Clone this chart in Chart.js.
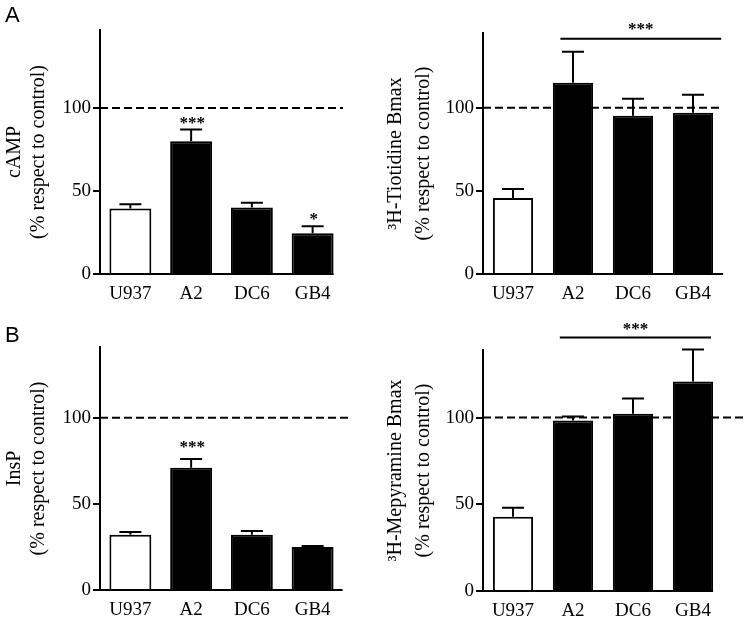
<!DOCTYPE html>
<html>
<head>
<meta charset="utf-8">
<script src="https://cdn.jsdelivr.net/npm/chart.js@4.4.1/dist/chart.umd.min.js"></script>
<style>
  html, body { margin: 0; padding: 0; background: #fff; }
  #wrap { position: relative; width: 747px; height: 618px; overflow: hidden; }
  #wrap canvas { position: absolute; }
</style>
</head>
<body>
<div id="wrap">
  <canvas id="campChart" width="373" height="310" style="left:0;top:0"></canvas>
  <canvas id="tiotidineChart" width="377" height="310" style="left:370px;top:0"></canvas>
  <canvas id="inspChart" width="373" height="308" style="left:0;top:310px"></canvas>
  <canvas id="mepyramineChart" width="377" height="308" style="left:370px;top:310px"></canvas>
</div>
<script>
// cell lines on the x axis
const categories = ["U937", "A2", "DC6", "GB4"];
const yTickValues = [0, 50, 100];
const controlLevel = 100;

// A: cAMP and 3H-tiotidine binding (% of control), mean and SEM
const campMean = [39.5, 80, 40, 24.5];
const campSem = [2.5, 7, 3, 4.2];
const campStars = ["", "***", "", "*"];

const tiotidineMean = [45.8, 115, 95.2, 97];
const tiotidineSem = [5.4, 18.7, 10.2, 10.8];

// B: InsP and 3H-mepyramine binding (% of control), mean and SEM
const inspMean = [32, 71, 32, 25];
const inspSem = [1.7, 5, 2.3, 0.6];
const inspStars = ["", "***", "", ""];

const mepyramineMean = [42.8, 98.3, 102.3, 120.8];
const mepyramineSem = [5.2, 2.3, 8.7, 18.5];

// significance bar over the transfected lines
const tiotidineBracket = { from: 1, to: 3, value: 141.6, label: "***" };
const mepyramineBracket = { from: 1, to: 3, value: 146.2, label: "***" };

const barFills = ["#ffffff", "#000000", "#000000", "#000000"];
const serif = "'Liberation Serif', 'Times New Roman', serif";
const starFont = "bold 17px " + serif;

const extrasPlugin = {
    id: "extras",
    beforeDatasetsDraw(chart) {
        const o = chart.options.plugins.extras;
        const { ctx, chartArea } = chart;
        const y = chart.scales.y.getPixelForValue(controlLevel);
        const xEnd = o.dashToEdge ? chart.width : chartArea.right + o.dashExtra;
        ctx.save();
        ctx.strokeStyle = "#000";
        ctx.lineWidth = 2;
        ctx.setLineDash([8, 4]);
        ctx.beginPath();
        ctx.moveTo(chartArea.left, y);
        ctx.lineTo(xEnd, y);
        ctx.stroke();
        ctx.restore();
    },
    afterDatasetsDraw(chart) {
        const o = chart.options.plugins.extras;
        const { ctx, chartArea } = chart;
        const yScale = chart.scales.y;
        const xScale = chart.scales.x;
        const meta = chart.getDatasetMeta(0);
        const means = chart.data.datasets[0].data;

        ctx.save();
        ctx.strokeStyle = "#000";
        ctx.fillStyle = "#000";
        ctx.lineWidth = 2;

        // upper error bars and per-bar stars
        meta.data.forEach((bar, i) => {
            const top = yScale.getPixelForValue(means[i] + o.sem[i]);
            ctx.beginPath();
            ctx.moveTo(bar.x, bar.y);
            ctx.lineTo(bar.x, top);
            ctx.moveTo(bar.x - 11, top);
            ctx.lineTo(bar.x + 11, top);
            ctx.stroke();
            if (o.stars && o.stars[i]) {
                ctx.font = starFont;
                ctx.textAlign = "center";
                ctx.textBaseline = "alphabetic";
                ctx.fillText(o.stars[i], bar.x + 1, top - o.starGap);
            }
        });

        // x axis line, ends near the last bar
        const last = meta.data[meta.data.length - 1];
        ctx.beginPath();
        ctx.moveTo(chartArea.left - 1, chartArea.bottom);
        ctx.lineTo(last.x + last.width / 2 + o.axisExtra, chartArea.bottom);
        ctx.stroke();

        // significance bracket
        if (o.bracket) {
            const cw = xScale.width / categories.length;
            const by = yScale.getPixelForValue(o.bracket.value);
            const x1 = xScale.getPixelForValue(o.bracket.from) + o.bracketStart * cw;
            const x2 = xScale.getPixelForValue(o.bracket.to) + o.bracketEnd * cw;
            ctx.beginPath();
            ctx.moveTo(x1, by);
            ctx.lineTo(x2, by);
            ctx.stroke();
            ctx.font = starFont;
            ctx.textAlign = "center";
            ctx.textBaseline = "alphabetic";
            ctx.fillText(o.bracket.label, (x1 + x2) / 2, by - o.bracketGap);
        }

        // panel letter
        if (o.letter) {
            ctx.font = "22px 'Liberation Sans', Arial, sans-serif";
            ctx.textAlign = "left";
            ctx.fillText(o.letter, 5, o.letterY);
        }
        ctx.restore();
    }
};

function buildPanel(id, o) {
    return new Chart(document.getElementById(id), {
        type: "bar",
        data: {
            labels: categories,
            datasets: [{
                data: o.mean,
                backgroundColor: barFills,
                borderColor: "#000",
                borderWidth: 2,
                barPercentage: o.barPct,
                categoryPercentage: 1
            }]
        },
        options: {
            responsive: false,
            animation: false,
            layout: { padding: o.padding },
            plugins: {
                legend: { display: false },
                tooltip: { enabled: false },
                extras: o.extras
            },
            scales: {
                x: {
                    grid: { display: false, drawTicks: false },
                    border: { display: false },
                    ticks: { color: "#000", font: { family: serif, size: 19 }, padding: 9 },
                    afterFit: s => { s.height = o.xHeight; }
                },
                y: {
                    min: 0,
                    max: o.yMax,
                    afterBuildTicks: s => { s.ticks = yTickValues.map(v => ({ value: v })); },
                    grid: { drawOnChartArea: false, tickLength: 7, lineWidth: 2, color: "#000" },
                    border: { color: "#000", width: 2 },
                    ticks: { color: "#000", font: { family: serif, size: 19 }, padding: 2 },
                    title: {
                        display: true,
                        text: o.title,
                        color: "#000",
                        font: { family: serif, size: 20, lineHeight: o.titleLine },
                        padding: { top: o.titlePad, bottom: 0 }
                    },
                    afterFit: s => { s.width = o.yWidth; }
                }
            }
        },
        plugins: [extrasPlugin]
    });
}

buildPanel("campChart", {
    mean: campMean, yMax: 147, barPct: 0.69,
    padding: { left: 0, top: 30, right: 30, bottom: 0 },
    xHeight: 36, yWidth: 100,
    title: ["cAMP", "(% respect to control)"], titleLine: 1.2, titlePad: 3,
    extras: { sem: campSem, stars: campStars, starGap: 2, dashExtra: 0, axisExtra: 0, letter: "A", letterY: 22 }
});

buildPanel("tiotidineChart", {
    mean: tiotidineMean, yMax: 145, barPct: 0.67,
    padding: { left: 0, top: 33, right: 24, bottom: 0 },
    xHeight: 36, yWidth: 113,
    title: ["\u00B3H-Tiotidine Bmax", "(% respect to control)"], titleLine: 1.4, titlePad: 12,
    extras: { sem: tiotidineSem, dashExtra: -1, axisExtra: 10,
        bracket: tiotidineBracket, bracketStart: -0.21, bracketEnd: 0.47, bracketGap: 5 }
});

buildPanel("inspChart", {
    mean: inspMean, yMax: 141, barPct: 0.69,
    padding: { left: 0, top: 37, right: 30, bottom: 0 },
    xHeight: 28, yWidth: 100,
    title: ["InsP", "(% respect to control)"], titleLine: 1.2, titlePad: 3,
    extras: { sem: inspSem, stars: inspStars, starGap: 7, dashExtra: 5, axisExtra: 9, letter: "B", letterY: 32 }
});

buildPanel("mepyramineChart", {
    mean: mepyramineMean, yMax: 139, barPct: 0.67,
    padding: { left: 0, top: 40, right: 24, bottom: 0 },
    xHeight: 27, yWidth: 113,
    title: ["\u00B3H-Mepyramine Bmax", "(% respect to control)"], titleLine: 1.4, titlePad: 12,
    extras: { sem: mepyramineSem, dashToEdge: true, axisExtra: 0,
        bracket: mepyramineBracket, bracketStart: -0.22, bracketEnd: 0.3, bracketGap: 4 }
});
</script>
</body>
</html>
